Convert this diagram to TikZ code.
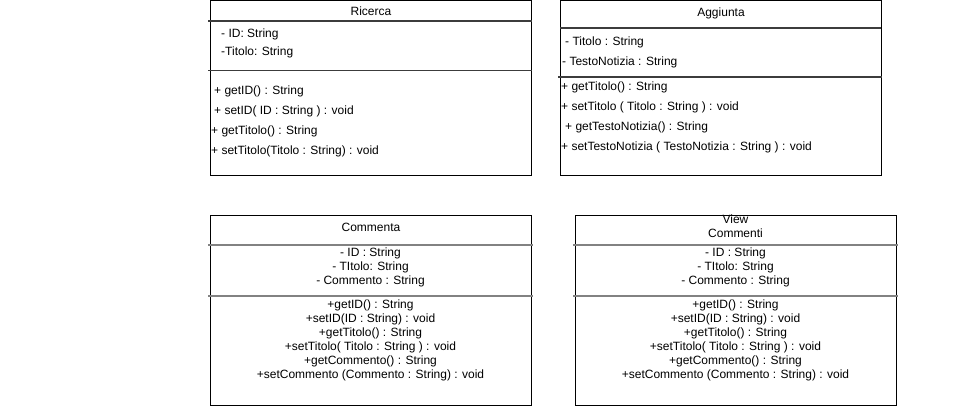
\documentclass[tikz,border=0pt]{standalone}
\usepackage{fontspec}
\setmainfont{Liberation Sans}
\usepackage{xcolor}
\usetikzlibrary{positioning}
\definecolor{sepdark}{RGB}{60,60,60}
\definecolor{sepgray}{RGB}{130,130,130}

\begin{document}
\begin{tikzpicture}[x=1pt, y=-1pt, font=\fontsize{12}{14}\selectfont]
    \tikzstyle{classbox}=[draw, line width=1pt, minimum width=321pt, minimum height=175pt, inner sep=0pt, outer sep=0pt, anchor=north west]
    \tikzstyle{txt}=[inner sep=0pt, text height=8.6pt, text depth=0pt]
    \tikzstyle{member}=[txt, anchor=west]
    \tikzstyle{sepline}=[sepdark, line width=1.2pt]
    \tikzstyle{sepwide}=[sepgray, line width=2pt]
    \useasboundingbox (0,0) rectangle (971,406);

    % top row
    \node[classbox] (ricerca) at (210,1) {};
    \node[classbox] (aggiunta) at (560,1) {};
    \draw[sepline] ([shift={(-2,20)}]ricerca.north west) -- ([shift={(1,20)}]ricerca.north east);
    \draw[sepline] ([shift={(-2,69.5)}]ricerca.north west) -- ([shift={(1,69.5)}]ricerca.north east);
    \draw[sepline] ([shift={(0,27)}]aggiunta.north west) -- ([shift={(0,27)}]aggiunta.north east);
    \draw[sepline] ([shift={(-2,76)}]aggiunta.north west) -- ([shift={(1,76)}]aggiunta.north east);

    \node[txt] (ricercaname) at (371,11.2) {Ricerca};
    \node[member] (ricercaid) at (221,33.3) {- ID: String};
    \node[member] (ricercatitolo) at (221,50.8) {-Titolo: String};
    \node[member] (getid) at (214,90) {+ getID() : String};
    \node[member] (setid) at (214,110) {+ setID( ID : String ) : void};
    \node[member] (gettitolo) at (211,130) {+ getTitolo() : String};
    \node[member] (settitolo) at (211,150) {+ setTitolo(Titolo : String) : void};

    \node[txt] (aggiuntaname) at (721,12.3) {Aggiunta};
    \node[member] (aggtitolo) at (565,41.7) {- Titolo : String};
    \node[member] (aggtesto) at (562,61) {- TestoNotizia : String};
    \node[member] (agggettitolo) at (561,86) {+ getTitolo() : String};
    \node[member] (aggsettitolo) at (561,106) {+ setTitolo ( Titolo : String ) : void};
    \node[member] (agggettesto) at (565,126) {+ getTestoNotizia() : String};
    \node[member] (aggsettesto) at (561,146) {+ setTestoNotizia ( TestoNotizia : String ) : void};

    % bottom row
    \node[classbox, minimum height=190pt] (commenta) at (210,215) {};
    \node[classbox, minimum height=190pt] (viewcommenti) at (575,215) {};
    \draw[sepwide] ([shift={(-2,30)}]commenta.north west) -- ([shift={(2,30)}]commenta.north east);
    \draw[sepwide] ([shift={(-2,81)}]commenta.north west) -- ([shift={(2,81)}]commenta.north east);
    \draw[sepwide] ([shift={(-2,30)}]viewcommenti.north west) -- ([shift={(2,30)}]viewcommenti.north east);
    \draw[sepwide] ([shift={(-2,81)}]viewcommenti.north west) -- ([shift={(2,81)}]viewcommenti.north east);

    \node[txt] (commentaname) at (371,227) {Commenta};
    \node[txt] (viewname) at (735.5,219) {View};
    \node[txt] (commentiname) at (735.5,233) {Commenti};

    \foreach \txt [count=\i] in {{- ID : String}, {- TItolo: String}, {- Commento : String}} {
        \node[txt] (cfield\i) at (370.5,238+14*\i) {\txt};
        \node[txt] (vfield\i) at (735.5,238+14*\i) {\txt};
    }
    \foreach \txt [count=\i] in {{+getID() : String}, {+setID(ID : String) : void}, {+getTitolo() : String},
        {+setTitolo( Titolo : String ) : void}, {+getCommento() : String}, {+setCommento (Commento : String) : void}} {
        \node[txt] (cmethod\i) at (370.5,290+14*\i) {\txt};
        \node[txt] (vmethod\i) at (735.5,290+14*\i) {\txt};
    }
\end{tikzpicture}
\end{document}
